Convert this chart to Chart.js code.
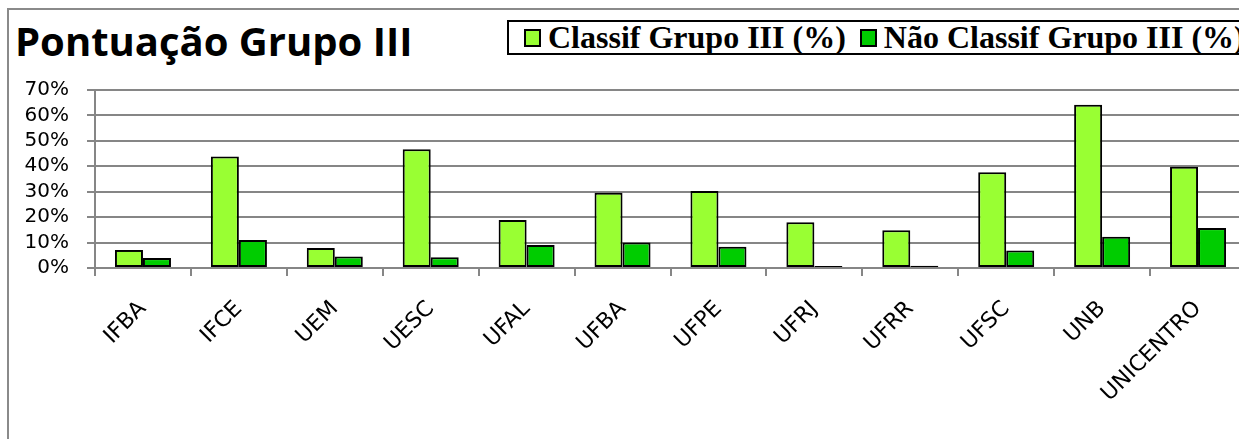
<!DOCTYPE html>
<html>
<head>
<meta charset="utf-8">
<script src="https://cdn.jsdelivr.net/npm/chart.js@4/dist/chart.umd.min.js"></script>
<style>
    html, body { margin: 0; padding: 0; background: #fff; overflow: hidden; }
    body { width: 1239px; height: 439px; position: relative; }
    .frame { position: absolute; left: 7px; top: 8px; width: 1300px; height: 500px;
             border-left: 2px solid #8a8a8a; border-top: 2px solid #8a8a8a; }
    .title { position: absolute; left: 15px; top: 14px; font-family: "Open Sans", sans-serif;
             font-weight: bold; font-size: 40px; line-height: 54px; color: #000; white-space: nowrap; }
    .legend { position: absolute; left: 507px; top: 20px; height: 31px; width: 800px;
              border: 2px solid #000; display: flex; align-items: center;
              font-family: "Liberation Serif", serif; font-weight: bold; font-size: 32px;
              white-space: nowrap; }
    .legend .box { width: 13px; height: 14px; border: 2px solid #000; display: inline-block; }
    .legend .item { display: flex; align-items: center; }
    .wrap { position: absolute; left: 0; top: 0; width: 1260px; height: 439px; }
</style>
</head>
<body>
<div class="frame"></div>
<div class="title">Pontuação Grupo III</div>
<div class="legend" id="legend"></div>
<div class="wrap"><canvas id="grupo3"></canvas></div>
<script>
const categorias = ['IFBA','IFCE','UEM','UESC','UFAL','UFBA','UFPE','UFRJ','UFRR','UFSC','UNB','UNICENTRO'];
const classif = [7.1, 43.8, 7.9, 46.7, 18.9, 29.6, 30.3, 18.0, 14.8, 37.7, 64.2, 39.8];
const naoClassif = [3.9, 11.0, 4.5, 4.2, 9.0, 10.0, 8.4, 0.8, 0.9, 6.9, 12.3, 15.7];
const yTicks = [0, 10, 20, 30, 40, 50, 60, 70];
const series = ['Classif Grupo III (%)', 'Não Classif Grupo III (%)'];
const cores = ['#99ff33', '#00cc00'];

// legenda em html
const legend = document.getElementById('legend');
series.forEach((nome, i) => {
    const item = document.createElement('span');
    item.className = 'item';
    item.style.marginLeft = i == 0 ? '15px' : '14px';
    const box = document.createElement('span');
    box.className = 'box';
    box.style.background = cores[i];
    const txt = document.createElement('span');
    txt.textContent = nome;
    txt.style.marginLeft = '7px';
    item.appendChild(box);
    item.appendChild(txt);
    legend.appendChild(item);
});

const ctx = document.getElementById("grupo3");
new Chart(ctx, {
    type: "bar",
    data: {
        labels: categorias,
        datasets: [{
            label: series[0],
            data: classif,
            backgroundColor: cores[0],
            borderColor: '#000',
            borderWidth: 2,
            borderSkipped: false
        }, {
            label: series[1],
            data: naoClassif,
            backgroundColor: cores[1],
            borderColor: '#000',
            borderWidth: 2,
            borderSkipped: false
        }]
    },
    options: {
        responsive: true,
        maintainAspectRatio: false,
        animation: false,
        layout: { padding: { left: 0, top: 90, right: 14, bottom: 0 } },
        plugins: {
            legend: { display: false },
            tooltip: { enabled: false }
        },
        datasets: {
            bar: { categoryPercentage: 0.584, barPercentage: 1.0 }
        },
        scales: {
            x: {
                grid: { display: true, drawOnChartArea: false, color: '#868686', lineWidth: 2, tickLength: 8, offset: true },
                border: { color: '#868686', width: 2 },
                ticks: {
                    minRotation: 45, maxRotation: 45, padding: 20, autoSkip: false,
                    color: '#000',
                    font: { family: 'DejaVu Sans', size: 22 }
                },
                afterFit: (scale) => { scale.height = 171; }
            },
            y: {
                min: 0,
                max: 70,
                afterBuildTicks: (scale) => { scale.ticks = yTicks.map(v => ({ value: v })); },
                grid: { color: '#868686', lineWidth: 2, tickLength: 8 },
                border: { color: '#868686', width: 2 },
                ticks: {
                    padding: 18, autoSkip: false,
                    color: '#000',
                    font: { family: 'DejaVu Sans', size: 20, lineHeight: 1 },
                    callback: (v) => v + '%'
                },
                afterFit: (scale) => { scale.width = 95; }
            }
        }
    }
});
</script>
</body>
</html>
